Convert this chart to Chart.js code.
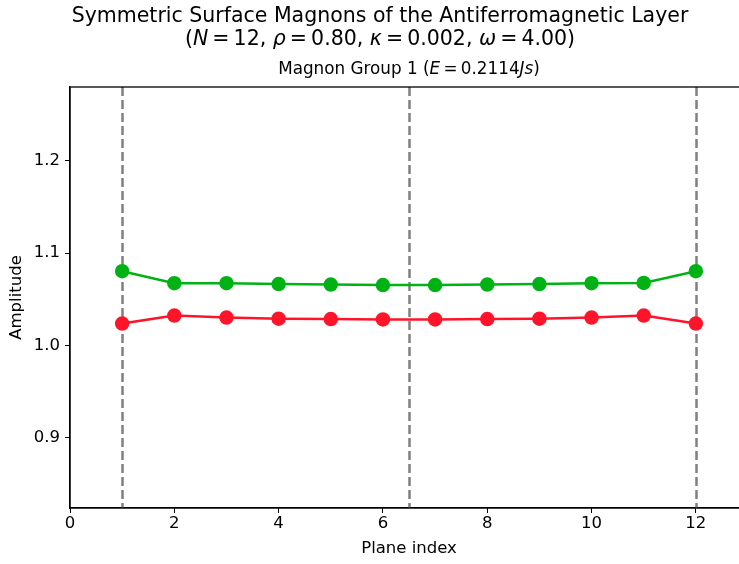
<!DOCTYPE html>
<html>
<head>
<meta charset="utf-8">
<script src="https://cdn.jsdelivr.net/npm/chart.js@4"></script>
<style>
  html, body { margin:0; padding:0; background:#fff; overflow:hidden; }
  #wrap { width:739px; height:564px; overflow:hidden; position:relative; }
  canvas { display:block; }
</style>
</head>
<body>
<div id="wrap"><canvas id="c" width="760" height="564"></canvas></div>
<script>
// ---- data ----
const planeIndex = [1, 2, 3, 4, 5, 6, 7, 8, 9, 10, 11, 12];
const amplitudeUpper = [1.0805, 1.0675, 1.0675, 1.0665, 1.066, 1.0655, 1.0655, 1.066, 1.0665, 1.0675, 1.0678, 1.0805];
const amplitudeLower = [1.0238, 1.0325, 1.0303, 1.029, 1.0287, 1.0282, 1.0282, 1.0287, 1.029, 1.0303, 1.0325, 1.0238];
const boundaryLines = [1, 6.5, 12];
const xTickValues = [0, 2, 4, 6, 8, 10, 12];
const yTickValues = [0.9, 1.0, 1.1, 1.2];
const T = '\u2009';
const titleLine1 = [["Symmetric Surface Magnons of the Antiferromagnetic Layer", false]];
const titleLine2 = [["(", false], ["N", true], [T + "=" + T + "12, ", false], ["ρ", true], [T + "=" + T + "0.80, ", false],
                    ["κ", true], [T + "=" + T + "0.002, ", false], ["ω", true], [T + "=" + T + "4.00)", false]];
const subtitleLine = [["Magnon Group 1 (", false], ["E", true], [T + "=" + T + "0.2114", false], ["Js", true], [")", false]];

const FONT = '"DejaVu Sans", sans-serif';

function drawRich(ctx, segs, cx, cy, size) {
  let total = 0;
  const widths = segs.map(([t, it]) => {
    ctx.font = (it ? 'italic ' : '') + size + 'px ' + FONT;
    const w = ctx.measureText(t).width; total += w; return w;
  });
  let x = cx - total / 2;
  ctx.textBaseline = 'middle';
  ctx.textAlign = 'left';
  ctx.fillStyle = '#000';
  segs.forEach(([t, it], i) => {
    ctx.font = (it ? 'italic ' : '') + size + 'px ' + FONT;
    ctx.fillText(t, x, cy);
    x += widths[i];
  });
}

const decor = {
  id: 'decor',
  beforeDatasetsDraw(chart) {
    const { ctx, chartArea, scales } = chart;
    ctx.save();
    ctx.strokeStyle = '#808080';
    ctx.lineWidth = 2.5;
    ctx.setLineDash([9, 4]);
    boundaryLines.forEach(v => {
      const px = Math.round(scales.x.getPixelForValue(v)) + 0.5;
      ctx.beginPath();
      ctx.moveTo(px, chartArea.top);
      ctx.lineTo(px, chartArea.bottom);
      ctx.stroke();
    });
    ctx.restore();
  },
  afterDraw(chart) {
    const { ctx, chartArea } = chart;
    ctx.save();
    ctx.strokeStyle = '#000';
    ctx.lineWidth = 1.3;
    ctx.strokeRect(chartArea.left, chartArea.top, chartArea.right - chartArea.left, chartArea.bottom - chartArea.top);
    drawRich(ctx, titleLine1, 380, 17, 20.5);
    drawRich(ctx, titleLine2, 380, 40, 20.5);
    drawRich(ctx, subtitleLine, (chartArea.left + chartArea.right) / 2, 70, 16.8);
    ctx.restore();
  }
};

function fixTicks(vals) {
  return function(axis) { axis.ticks = vals.map(v => ({ value: v })); };
}

new Chart(document.getElementById('c'), {
  type: 'line',
  data: {
    datasets: [
      {
        data: planeIndex.map((x, i) => ({ x, y: amplitudeUpper[i] })),
        borderColor: '#00b214', backgroundColor: '#00b214',
        borderWidth: 2.5, pointRadius: 6, pointHoverRadius: 6, tension: 0
      },
      {
        data: planeIndex.map((x, i) => ({ x, y: amplitudeLower[i] })),
        borderColor: '#ff1429', backgroundColor: '#ff1429',
        borderWidth: 2.5, pointRadius: 6, pointHoverRadius: 6, tension: 0
      }
    ]
  },
  options: {
    responsive: false,
    animation: false,
    events: [],
    layout: { padding: { top: 87, right: 12, left: 0, bottom: 0 } },
    plugins: { legend: { display: false }, tooltip: { enabled: false }, title: { display: false } },
    scales: {
      x: {
        type: 'linear', min: 0, max: 13,
        afterBuildTicks: fixTicks(xTickValues),
        afterFit(axis) { axis.height = 56; },
        grid: { drawOnChartArea: false, tickLength: 5, tickColor: '#000', color: '#000' },
        border: { display: true, color: '#000', width: 1.3 },
        ticks: { color: '#000', font: { family: FONT, size: 16.5 }, padding: 1, autoSkip: false, maxRotation: 0,
                 callback: v => String(v) },
        title: { display: true, text: 'Plane index', color: '#000', font: { family: FONT, size: 16.5 }, padding: { top: 0, bottom: 5 } }
      },
      y: {
        type: 'linear', min: 0.824, max: 1.28,
        afterBuildTicks: fixTicks(yTickValues),
        afterFit(axis) { axis.width = 70; },
        grid: { drawOnChartArea: false, tickLength: 5, tickColor: '#000', color: '#000' },
        border: { display: true, color: '#000', width: 1.3 },
        ticks: { color: '#000', font: { family: FONT, size: 16.5 }, padding: 5,
                 callback: v => Number(v).toFixed(1) },
        title: { display: true, text: 'Amplitude', color: '#000', font: { family: FONT, size: 16.5 }, padding: { top: 7, bottom: 0 } }
      }
    }
  },
  plugins: [decor]
});
</script>
</body>
</html>
